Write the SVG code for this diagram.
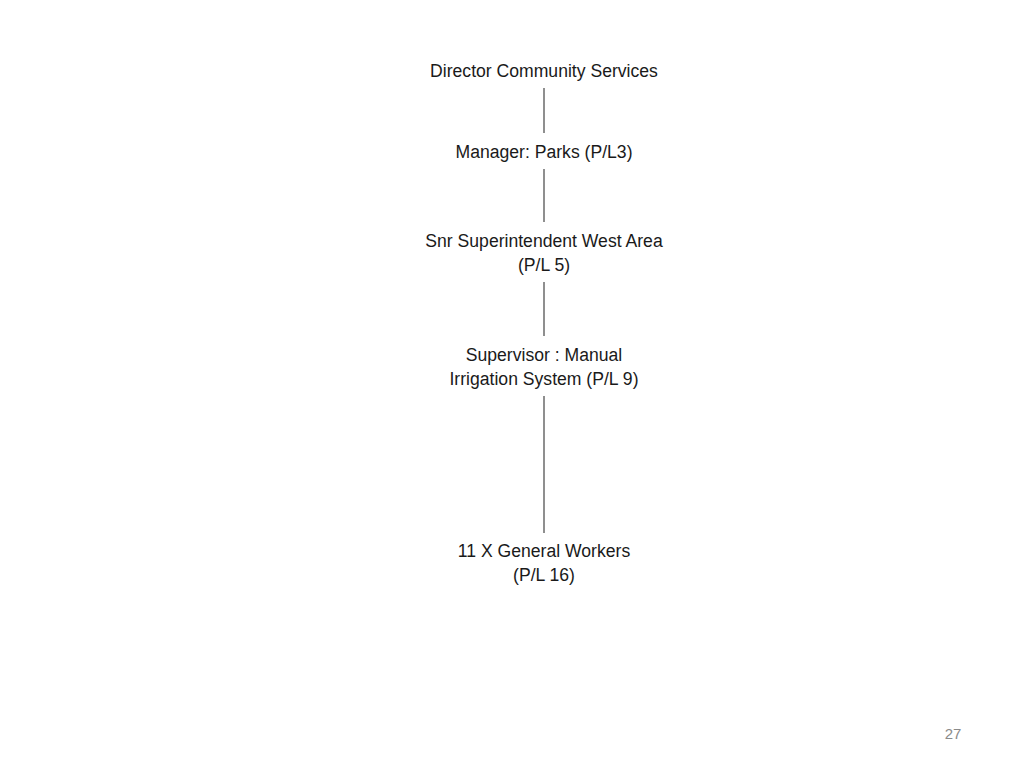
<svg xmlns="http://www.w3.org/2000/svg" width="1024" height="768" viewBox="0 0 1024 768">
  <style>
    .t { font-family: "Liberation Sans", Arial, sans-serif; font-size: 17.6px; fill: #1a1a1a; text-anchor: middle; }
    .c { stroke: #333333; stroke-width: 1.1; fill: none; }
    .pg { font-family: "Liberation Sans", Arial, sans-serif; font-size: 15px; fill: #8a8a8a; text-anchor: middle; }
  </style>
  <rect width="1024" height="768" fill="#ffffff"/>
  <g id="connectors">
    <line class="c" x1="544" y1="88" x2="544" y2="133"/>
    <line class="c" x1="544" y1="169" x2="544" y2="222"/>
    <line class="c" x1="544" y1="282" x2="544" y2="336"/>
    <line class="c" x1="544" y1="396" x2="544" y2="533"/>
  </g>
  <g id="director">
    <text class="t" x="544" y="77">Director Community Services</text>
  </g>
  <g id="manager">
    <text class="t" x="544" y="158">Manager: Parks (P/L3)</text>
  </g>
  <g id="superintendent">
    <text class="t" x="544" y="247">Snr Superintendent West Area</text>
    <text class="t" x="544" y="271">(P/L 5)</text>
  </g>
  <g id="supervisor">
    <text class="t" x="544" y="361">Supervisor : Manual</text>
    <text class="t" x="544" y="385">Irrigation System (P/L 9)</text>
  </g>
  <g id="workers">
    <text class="t" x="544" y="557">11 X General Workers</text>
    <text class="t" x="544" y="581">(P/L 16)</text>
  </g>
  <text class="pg" x="953" y="739">27</text>
</svg>
